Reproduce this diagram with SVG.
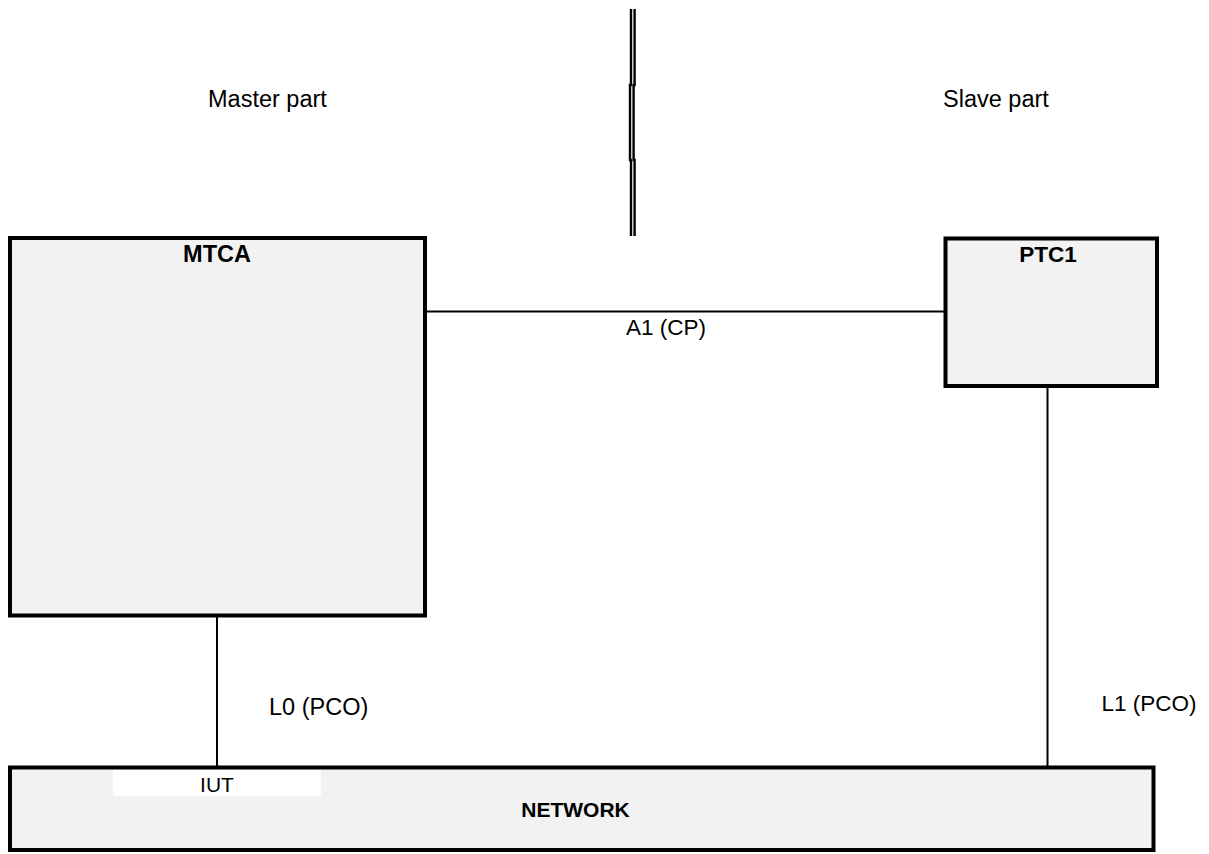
<svg xmlns="http://www.w3.org/2000/svg" width="1209" height="854" viewBox="0 0 1209 854">
<style>
.box{fill:#f2f2f2;stroke:#000;stroke-width:4}
.ln{fill:none;stroke:#000;stroke-width:2}
.dv{fill:none;stroke:#000;stroke-width:2.4}
.t{font-family:"Liberation Sans",Arial,sans-serif;fill:#000}
.b{font-weight:bold}
</style>
<rect width="1209" height="854" fill="#fff"/>
<g id="divider">
<polyline class="dv" points="631,9 631,85 630,85 630,160 631,160 631,236"/>
<polyline class="dv" points="634.6,9 634.6,85 633.6,85 633.6,160 634.6,160 634.6,236"/>
</g>
<text class="t" x="208" y="107" font-size="23.5">Master part</text>
<text class="t" x="943" y="107" font-size="23.5">Slave part</text>
<g id="connectors">
<line class="ln" x1="427" y1="311.5" x2="945" y2="311.5"/>
<line class="ln" x1="217" y1="617" x2="217" y2="766"/>
<line class="ln" x1="1047.5" y1="388" x2="1047.5" y2="766"/>
<text class="t" x="666" y="335" font-size="22.5" text-anchor="middle">A1 (CP)</text>
<text class="t" x="269" y="715" font-size="23.5">L0 (PCO)</text>
<text class="t" x="1101.5" y="711" font-size="22.5">L1 (PCO)</text>
</g>
<g id="MTCA">
<rect class="box" x="10" y="238" width="415" height="377.5"/>
<text class="t b" x="217" y="262" font-size="23.5" text-anchor="middle">MTCA</text>
</g>
<g id="PTC1">
<rect class="box" x="945.5" y="238.5" width="211.5" height="147.5"/>
<text class="t b" x="1048" y="262" font-size="22.5" text-anchor="middle">PTC1</text>
</g>
<g id="NETWORK">
<rect class="box" x="10" y="767.5" width="1143.5" height="82.5"/>
<rect x="113" y="770" width="208" height="26" fill="#fff"/>
<text class="t" x="217" y="792" font-size="21" text-anchor="middle">IUT</text>
<text class="t b" x="575.5" y="817" font-size="21" text-anchor="middle">NETWORK</text>
</g>
</svg>
